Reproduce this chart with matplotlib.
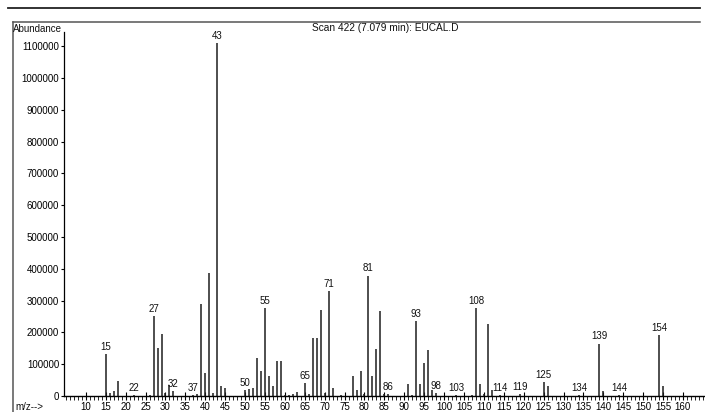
import matplotlib.pyplot as plt
from matplotlib.lines import Line2D

plt.rcParams['font.family'] = ['Liberation Sans', 'DejaVu Sans']

### Peak list (m/z, abundance) ###
mz = [15, 16, 17, 18, 22, 26, 27, 28, 29, 30, 31, 32, 37, 38, 39, 40, 41, 42, 43, 44, 45,
      50, 51, 52, 53, 54, 55, 56, 57, 58, 59, 60, 61, 62, 63, 65, 66, 67, 68, 69, 70, 71, 72,
      74, 77, 78, 79, 80, 81, 82, 83, 84, 85, 86, 91, 92, 93, 94, 95, 96, 97, 98, 103,
      107, 108, 109, 110, 111, 112, 114, 119, 125, 126, 134, 139, 140, 144, 154, 155]
abund = [131000, 9000, 16000, 47000, 2000, 4000, 252000, 152000, 195000, 8000, 35000, 16000,
         3000, 5000, 290000, 72000, 388000, 10000, 1110000, 30000, 25000,
         18000, 23000, 25000, 120000, 79000, 277000, 63000, 31000, 110000, 110000, 3000, 4000,
         6000, 12000, 41000, 5000, 182000, 182000, 270000, 8000, 329000, 24000,
         4000, 63000, 19000, 79000, 5000, 379000, 63000, 148000, 268000, 5000, 5000, 39000, 4000,
         237000, 39000, 105000, 145000, 20000, 10000, 3000,
         4000, 278000, 38000, 6000, 228000, 20000, 4000, 6000, 44000, 32000, 3000, 165000, 15000,
         3000, 192000, 31000]
labeled = [15, 22, 27, 32, 37, 43, 50, 55, 65, 71, 81, 86, 93, 98, 103, 108, 114, 119,
           125, 134, 139, 144, 154]

W, H = 705, 412
fig = plt.figure(figsize=(W / 100, H / 100), dpi=100)

# axes placed in pixel terms of the scan
left, right, top, bottom = 64, 704, 32, 396
ax = fig.add_axes([left / W, (H - bottom) / H, (right - left) / W, (bottom - top) / H])

ax.vlines(mz, 0, abund, colors='#1e1e1e', linewidth=1.1)

for m in labeled:
    a = abund[mz.index(m)]
    ax.annotate(str(m), (m, a), xytext=(0, 1.5), textcoords='offset points',
                ha='center', va='bottom', fontsize=7, color='#111')

ax.set_xlim(4.5, 165.3)
ax.set_ylim(0, 1145000)

ax.set_xticks(range(10, 161, 5))
ax.set_xticks(range(5, 166), minor=True)
ax.set_yticks(range(0, 1100001, 100000))
ax.set_yticklabels([str(v) for v in range(0, 1100001, 100000)])
ax.tick_params(axis='x', which='major', direction='inout', length=6, width=0.8,
               labelsize=7, pad=1)
ax.tick_params(axis='x', which='minor', direction='out', length=3, width=0.6)
ax.tick_params(axis='y', direction='out', length=2.5, width=0.8, labelsize=7, pad=1)

for s in ['top', 'right']:
    ax.spines[s].set_visible(False)
ax.spines['left'].set_linewidth(0.9)
ax.spines['bottom'].set_linewidth(1.0)

### frame lines of the printout ###
def px_line(x0, y0, x1, y1, lw, color):
    fig.add_artist(Line2D([x0 / W, x1 / W], [1 - y0 / H, 1 - y1 / H], lw=lw, color=color,
                          transform=fig.transFigure))

px_line(8, 8, 700, 8, 1.3, '#222')
px_line(13, 22, 700, 22, 1.1, '#555')
px_line(13, 22, 13, 412, 1.1, '#555')

fig.text(13 / W, 1 - 29 / H, 'Abundance', fontsize=7, ha='left', va='center', color='#111')
fig.text(385 / W, 1 - 28 / H, 'Scan 422 (7.079 min): EUCAL.D', fontsize=7.3,
         ha='center', va='center', color='#111')
fig.text(15 / W, 1 - 407 / H, 'm/z-->', fontsize=7, ha='left', va='center', color='#111')

fig.savefig('out.png', dpi=100)
